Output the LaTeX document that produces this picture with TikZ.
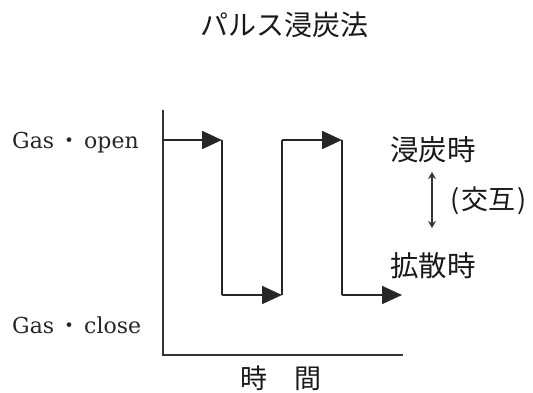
\documentclass[tikz,border=0pt]{standalone}
\usepackage{fontspec}
\setmainfont{DejaVu Serif}
\newfontfamily\cjk{Noto Sans CJK JP}
\usetikzlibrary{arrows.meta}
\begin{document}
\begin{tikzpicture}[x=1pt,y=-1pt,
  axis/.style={line width=1.8pt, draw=black!80},
  sig/.style={line width=1.8pt, draw=black!85},
  sigarr/.style={sig, -{Triangle[length=20pt,width=18pt]}},
  dbl/.style={line width=1.4pt, draw=black!80, {Stealth[length=7pt,width=8pt]}-{Stealth[length=7pt,width=8pt]}},
  lbl/.style={inner sep=0pt, text=black!85, font=\fontsize{22}{24}\selectfont},
  jp/.style={inner sep=0pt, text=black!90, font=\cjk\fontsize{28.5}{30}\selectfont}]
\useasboundingbox (0,0) rectangle (533,392);
% title
\node[jp, font=\cjk\fontsize{28}{30}\selectfont] (title) at (284,25) {パルス浸炭法};
% axes
\coordinate (ytop) at (163,110);
\coordinate (orig) at (163,355);
\coordinate (xend) at (403,355);
\draw[axis] (ytop) -- (orig) -- (xend);
% signal
\coordinate (s0) at (163,140);
\coordinate (a1) at (222,140);
\coordinate (b1) at (222,295);
\coordinate (b2) at (282,295);
\coordinate (a2) at (282,140);
\coordinate (a3) at (342,140);
\coordinate (b3) at (342,295);
\coordinate (b4) at (402,295);
\draw[sigarr] (s0) -- (a1);
\draw[sig] (a1) -- (b1);
\draw[sigarr] (b1) -- (b2);
\draw[sig] (b2) -- (a2);
\draw[sigarr] (a2) -- (a3);
\draw[sig] (a3) -- (b3);
\draw[sigarr] (b3) -- (b4);
% left labels
\node[lbl, anchor=west] (open) at (12,143) {Gas\kern4pt{\cjk ・}\kern4pt{}open};
\node[lbl, anchor=west] (close) at (12,325) {Gas\kern4pt{\cjk ・}\kern4pt{}close};
% right labels
\node[jp, anchor=west] (carb) at (390,150) {浸炭時};
\node[jp, anchor=west] (diff) at (390,266) {拡散時};
\coordinate (d1) at (432,172);
\coordinate (d2) at (432,228);
\draw[dbl] (d1) -- (d2);
\node[jp, anchor=west, font=\cjk\fontsize{27}{30}\selectfont] (alt) at (450,201) {(\kern2pt 交互\kern2pt)};
% x label
\node[jp, font=\cjk\fontsize{27}{30}\selectfont] (time) at (281,378) {時　間};
\end{tikzpicture}
\end{document}
